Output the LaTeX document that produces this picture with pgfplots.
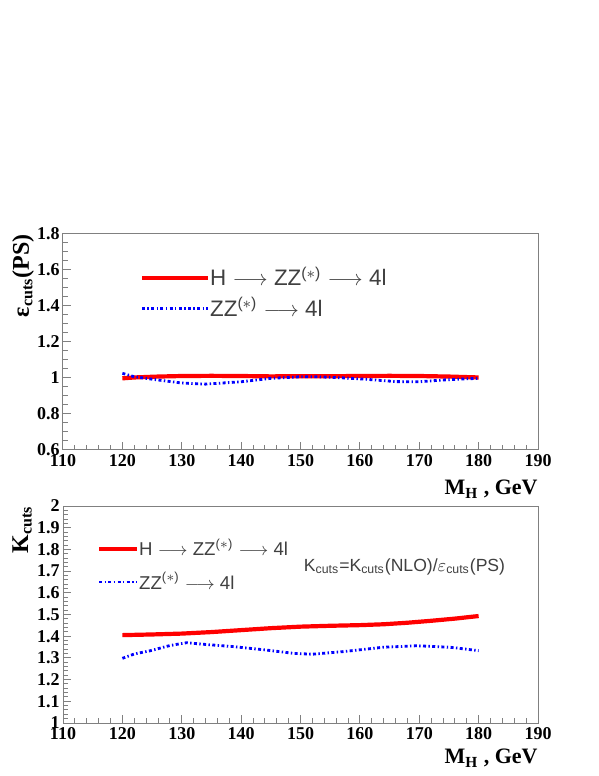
\documentclass[border=0pt]{standalone}
\usepackage{fontspec}
\setmainfont{Liberation Serif}
\newfontfamily\rootsans{Liberation Sans}
\usepackage{pgfplots}
\pgfplotsset{compat=1.18}

\definecolor{framegray}{HTML}{808080}
\definecolor{legtext}{HTML}{404040}
\definecolor{hzzred}{HTML}{FF0000}
\definecolor{zzblue}{HTML}{0000FF}

\pgfplotsset{
  rootframe/.style={
    scale only axis, width=237.5pt,
    xmin=110, xmax=190, xtick={110,120,...,190}, minor x tick num=4,
    axis line style={framegray, line width=0.5pt},
    every tick/.style={framegray, line width=0.5pt},
    tick align=inside, tick pos=left,
    major tick length=4pt, minor tick length=2.3pt,
    ticklabel style={font=\fontsize{9}{10}\selectfont\bfseries},
    /pgf/number format/assume math mode=true,
    xticklabel style={inner sep=0pt, yshift=-2pt},
    yticklabel style={inner sep=0pt, xshift=-1.5pt},
    every axis y label/.style={rotate=90, anchor=east, inner sep=0pt,
      font=\fontsize{12}{13}\selectfont\bfseries},
    every axis x label/.style={at={(rel axis cs:1,0)}, anchor=north east,
      inner sep=0pt, font=\fontsize{11}{12}\selectfont\bfseries},
    legend cell align=left,
    legend style={draw=none, fill=none, inner sep=0pt, outer sep=0pt,
      text=legtext, nodes={inner sep=0pt}},
  },
  hzz/.style={hzzred, line width=2.1pt},
  zz/.style={zzblue, line width=1.4pt, dash pattern=on 1.5pt off 1.2pt on 0.7pt off 1.2pt},
}

\begin{document}
\begin{tikzpicture}
\path[use as bounding box, fill=white] (0,0) rectangle (299.5pt,388pt);

% top panel: efficiency of cuts
\begin{axis}[rootframe,
  at={(31.5pt,163pt)}, anchor=south west, height=108pt,
  ymin=0.6, ymax=1.8, ytick={0.6,0.8,1,1.2,1.4,1.6,1.8}, minor y tick num=3,
  ylabel={ε\textsubscript{cuts}(PS)},
  y label style={at={(rel axis cs:-0.084,1)}},
  xlabel={M\textsubscript{H} , GeV},
  x label style={yshift=-15pt},
  legend image code/.code={\draw[#1] (0pt,0pt) -- (33pt,0pt);},
  legend style={at={(rel axis cs:0.162,0.727)}, anchor=west,
    font=\rootsans\fontsize{11.2}{12}\selectfont, row sep=4pt,
    /tikz/every even column/.append style={column sep=3.5pt}},
]
\addplot[hzz] coordinates {
  (120,0.998) (122,1.003) (126,1.008) (130,1.011) (135,1.012) (140,1.011)
  (145,1.009) (150,1.010) (155,1.010) (160,1.011) (165,1.012) (170,1.011)
  (175,1.008) (180,1.003)};
\addplot[zz] coordinates {
  (120,1.026) (122,1.007) (126,0.989) (130,0.972) (134,0.966) (140,0.979)
  (145,0.998) (150,1.007) (152.7,1.007) (157,1.001) (161,0.993) (166,0.980)
  (170,0.979) (174,0.989) (177,0.994) (180,0.998)};
\legend{H $\longrightarrow$ ZZ\textsuperscript{($\ast$)} $\longrightarrow$ 4l,
        ZZ\textsuperscript{($\ast$)} $\longrightarrow$ 4l}
\end{axis}

% bottom panel: K factor after cuts
\begin{axis}[rootframe,
  at={(31.5pt,26.5pt)}, anchor=south west, height=108.5pt,
  ymin=1, ymax=2, ytick={1,1.1,1.2,1.3,1.4,1.5,1.6,1.7,1.8,1.9,2}, minor y tick num=4,
  ylabel={K\textsubscript{cuts}},
  y label style={at={(rel axis cs:-0.086,1)}},
  xlabel={M\textsubscript{H} , GeV},
  x label style={yshift=-13pt},
  legend image code/.code={\draw[#1] (0pt,0pt) -- (19pt,0pt);},
  legend style={at={(rel axis cs:0.0716,0.726)}, anchor=west,
    font=\rootsans\fontsize{9.3}{11}\selectfont, row sep=6.5pt,
    /tikz/every even column/.append style={column sep=3pt}},
]
\addplot[hzz] coordinates {
  (120,1.405) (125,1.408) (130,1.412) (135,1.419) (140,1.428) (145,1.437)
  (150,1.444) (155,1.448) (160,1.451) (164,1.455) (168,1.462) (172,1.471)
  (176,1.481) (180,1.493)};
\addplot[zz] coordinates {
  (120,1.298) (122,1.318) (124.7,1.333) (128,1.357) (130.8,1.370) (134,1.362)
  (138.7,1.352) (144.3,1.336) (148.8,1.321) (152,1.317) (157.2,1.329)
  (163.9,1.349) (169.6,1.356) (175.2,1.349) (178,1.340) (180,1.333)};
\legend{H $\longrightarrow$ ZZ\textsuperscript{($\ast$)} $\longrightarrow$ 4l,
        ZZ\textsuperscript{($\ast$)} $\longrightarrow$ 4l}
\node[font=\rootsans\fontsize{8.8}{10}\selectfont, text=legtext, inner sep=0pt]
  at (rel axis cs:0.719,0.719)
  {K\textsubscript{cuts}=K\textsubscript{cuts}(NLO)/$\varepsilon$\textsubscript{cuts}(PS)};
\end{axis}
\end{tikzpicture}
\end{document}
